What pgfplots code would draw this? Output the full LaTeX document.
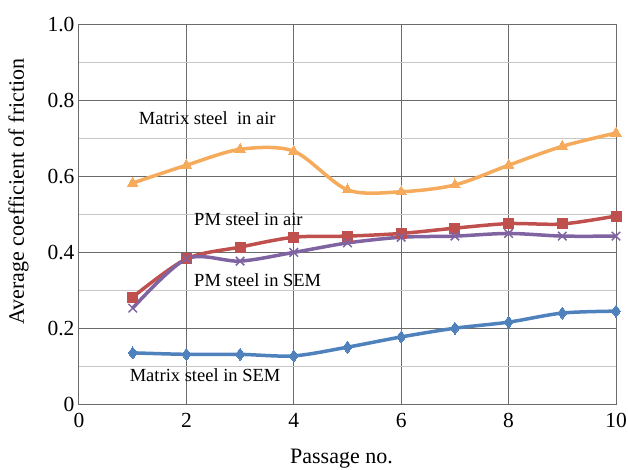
\documentclass[border=0pt]{standalone}
\usepackage{pgfplots}
\pgfplotsset{compat=1.18}
\usepackage{fontspec}
\setmainfont{Liberation Serif}
\definecolor{corange}{RGB}{245,170,92}
\definecolor{cred}{RGB}{192,80,77}
\definecolor{cpurple}{RGB}{128,100,162}
\definecolor{cblue}{RGB}{79,129,189}
\begin{document}
\begin{tikzpicture}
\begin{axis}[
  scale only axis, width=537pt, height=379pt,
  xmin=0, xmax=10, ymin=0, ymax=1,
  xtick={0,2,4,6,8,10},
  ytick={0,0.2,0.4,0.6,0.8,1.0},
  yticklabels={0,0.2,0.4,0.6,0.8,1.0},
  minor ytick={0.1,0.3,0.5,0.7,0.9},
  grid=both,
  major grid style={draw=black!58, line width=1pt},
  minor grid style={draw=black!22, line width=1pt},
  axis line style={draw=black!58, line width=1pt},
  major tick length=0pt, minor tick length=0pt,
  /pgf/number format/assume math mode=true,
  ticklabel style={font=\fontsize{21.5}{24}\selectfont},
  xticklabel style={yshift=-6pt},
  yticklabel style={xshift=-1pt},
  xlabel={Passage no.}, ylabel={Average coefficient of friction},
  label style={font=\fontsize{22}{25}\selectfont},
  xlabel style={yshift=-14pt, xshift=-6pt},
  ylabel style={xshift=23pt, yshift=12pt},
  every axis plot/.append style={line width=3.5pt, smooth, tension=0.5},
]
\addplot[color=corange, mark=triangle*, mark size=6pt, mark options={line width=0pt, solid}] coordinates {
(1,0.583) (2,0.63) (3,0.672) (4,0.667) (5,0.565) (6,0.56) (7,0.578) (8,0.63) (9,0.68) (10,0.715)};
\addplot[color=cred, mark=square*, mark size=5pt, mark options={line width=0pt}] coordinates {
(1,0.282) (2,0.383) (3,0.414) (4,0.44) (5,0.443) (6,0.45) (7,0.464) (8,0.476) (9,0.475) (10,0.496)};
\addplot[color=cpurple, mark=x, mark size=6pt, mark options={line width=1.5pt}] coordinates {
(1,0.253) (2,0.383) (3,0.377) (4,0.40) (5,0.425) (6,0.44) (7,0.443) (8,0.45) (9,0.443) (10,0.443)};
\addplot[color=cblue, mark=diamond*, mark size=6pt, mark options={line width=0pt}] coordinates {
(1,0.135) (2,0.131) (3,0.131) (4,0.127) (5,0.150) (6,0.177) (7,0.200) (8,0.216) (9,0.240) (10,0.245)};
\node[anchor=west, font=\fontsize{18.5}{21}\selectfont] at (axis cs:1.05,0.755) {Matrix steel\ \ in air};
\node[anchor=west, font=\fontsize{18.5}{21}\selectfont] at (axis cs:2.08,0.487) {PM steel in air};
\node[anchor=west, font=\fontsize{18.5}{21}\selectfont] at (axis cs:2.08,0.327) {PM steel in SEM};
\node[anchor=west, font=\fontsize{18.5}{21}\selectfont] at (axis cs:0.88,0.077) {Matrix steel in SEM};
\end{axis}
\pgfresetboundingbox
\path[use as bounding box] ([shift={(-79pt,-65pt)}]current axis.south west) rectangle ([shift={(549pt,404pt)}]current axis.south west);
\end{tikzpicture}
\end{document}
